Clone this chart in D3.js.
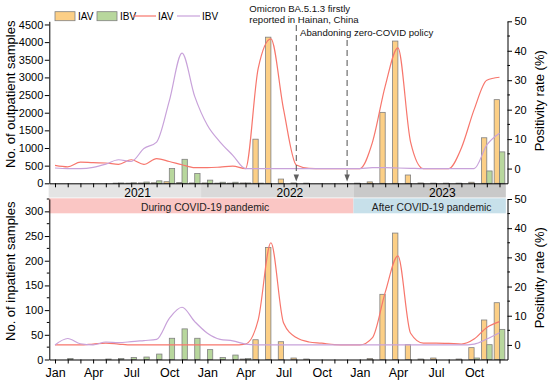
<!DOCTYPE html>
<html><head><meta charset="utf-8">
<script src="https://cdn.jsdelivr.net/npm/d3@7/dist/d3.min.js"></script>
<style>body{margin:0;background:#fff;} svg{font-family:Arial,"Liberation Sans",sans-serif;}</style>
</head><body>
<svg id="c" width="550" height="381"></svg>
<script>
// ---------- data ----------
const years = ["2021", "2022", "2023"];
const monthNames = ["Jan","Feb","Mar","Apr","May","Jun","Jul","Aug","Sep","Oct","Nov","Dec"];
const categories = years.flatMap(y => monthNames.map(m => m + " " + y));
const tickLabels = ["Jan", "Apr", "Jul", "Oct"];

// outpatient samples (bars, left axis)
const outIAV = [0,0,0,0,0,5,5,10,15,45,20,10,
                10,5,5,10,1250,4140,120,10,5,0,0,0,
                5,40,2010,4030,235,10,5,5,5,30,1290,2370];
const outIBV = [0,0,0,0,0,10,15,35,70,420,680,280,
                90,30,30,10,5,0,0,0,0,0,0,0,
                0,0,0,0,0,0,0,0,0,0,350,890];
// outpatient positivity rate (%) (lines, right axis)
const outIAVRate = [1.1,0.6,2.2,2.0,1.9,1.4,3.0,1.4,3.4,2.4,1.3,0.3,
                    0.3,0.5,0.8,0,34,44,20,1.2,0.1,0,0,0,
                    0,9,28,41,9,0,0,0,7,20,30,31];
const outIBVRate = [0.2,0,0,0.4,1.5,3.0,2.4,6.8,9.0,23,39.2,24.5,
                    14.7,9,4.5,0,0,0,0,0,0,0,0,0,
                    0,0.3,0.3,0.2,0.1,0,0,0,0,0,8,12];

// inpatient samples
const inIAV = [0,0,0,0,0,0,0,0,0,0,0,0,
               0,0,0,1,40,227,36,3,1,0,0,0,
               0,2,132,256,30,1,3,0,1,24,80,115];
const inIBV = [0,2,0,0,1,2,4,5,11,43,62,43,
               20,4,9,2,0,0,0,0,0,0,0,0,
               0,0,0,0,0,0,0,0,0,3,30,61];
const inIAVRate = [0,0,0,0.3,0.6,0.3,0,0,0,0,0,0,
                   0,0,0,0.3,8.6,35,7.5,2.5,1,0.6,0.1,0,
                   0,2.5,18,30.5,4,0.6,0.6,0.5,0.3,2,6,8];
const inIBVRate = [0,2.2,0.4,0,1.0,0.8,1.1,1.5,1.9,9.1,12.9,8,
                   4.0,1.9,1.4,0.3,0,0,0,0,0,0,0,0,
                   0,0,0,0,0,0,0,0,0,0.3,2,4.2];

const periods = ["During COVID-19 pandemic", "After COVID-19 pandemic"];
const periodStart = [0, 24];
const periodEnd = [24, 36];
const events = [
  {month: 19, lines: ["Omicron BA.5.1.3 firstly", "reported in Hainan, China"]},
  {month: 23, lines: ["Abandoning zero-COVID policy"]}
];

// ---------- layout ----------
const FONT = "Arial,'Liberation Sans',sans-serif";
const C = {iav: "#fccf86", ibv: "#b8d79d", barStroke: "#808080",
           lineIAV: "#f7766c", lineIBV: "#c8a2da"};
const svg = d3.select("#c");
const X0 = 49.3, X1 = 507.5;
const x = d3.scaleLinear().domain([-0.45, 35.63]).range([X0, X1]);
const step = x(1) - x(0);
const sub = d3.scaleBand().domain(["IAV", "IBV"]).range([-0.42 * step, 0.42 * step]);

// year band
const yearColors = ["#e4e4e4", "#d9d9d9", "#c9c9c9"];
years.forEach((yr, k) => {
  svg.append("rect").attr("x", x(k * 12 - 0.5)).attr("y", 184)
    .attr("width", x(k * 12 + 11.5) - x(k * 12 - 0.5)).attr("height", 13.5)
    .attr("fill", yearColors[k]);
  svg.append("text").attr("x", x(k * 12 + 6.5)).attr("y", 196.5)
    .attr("text-anchor", "middle").attr("font-size", 12).text(yr);
});
// period band
const periodColors = ["#fac6c4", "#c7e0ea"];
periods.forEach((p, k) => {
  const a = x(periodStart[k] - 0.5), b = x(periodEnd[k] - 0.5);
  svg.append("rect").attr("x", a).attr("y", 198.3).attr("width", b - a).attr("height", 15)
    .attr("fill", periodColors[k]);
  svg.append("text").attr("x", (a + b) / 2 + (k === 0 ? 4 : 2)).attr("y", 210.5)
    .attr("text-anchor", "middle").attr("font-size", 10.3).attr("fill", "#222").text(p);
});

const panels = [
  {top: 21.3, bot: 183.3, lMax: 4590, lTicks: d3.range(0, 4501, 500), lMinor: [],
   iav: outIAV, ibv: outIBV, rA: outIAVRate, rB: outIBVRate,
   title: "No. of outpatient samples", labels: false},
  {top: 199, bot: 359.5, lMax: 325, lTicks: d3.range(0, 301, 50), lMinor: d3.range(25, 326, 50),
   iav: inIAV, ibv: inIBV, rA: inIAVRate, rB: inIBVRate,
   title: "No. of inpatient samples", labels: true}
];

panels.forEach(P => {
  const yL = d3.scaleLinear().domain([0, P.lMax]).range([P.bot, P.top]);
  const yR = d3.scaleLinear().domain([-5, 50]).range([P.bot, P.top]);
  const g = svg.append("g");

  // bars
  [["IAV", P.iav, C.iav], ["IBV", P.ibv, C.ibv]].forEach(([key, vals, col]) => {
    g.append("g").selectAll("rect").data(vals.map((v, i) => ({v, i})).filter(d => d.v > 0))
      .join("rect")
      .attr("x", d => x(d.i) + sub(key))
      .attr("width", sub.bandwidth())
      .attr("y", d => yL(d.v))
      .attr("height", d => yL(0) - yL(d.v))
      .attr("fill", col).attr("stroke", C.barStroke).attr("stroke-width", 0.8);
  });

  // lines
  const line = d3.line().x((d, i) => x(i)).y(d => yR(d)).curve(d3.curveMonotoneX);
  g.append("path").attr("d", line(P.rA)).attr("fill", "none")
    .attr("stroke", C.lineIAV).attr("stroke-width", 1.2);
  g.append("path").attr("d", line(P.rB)).attr("fill", "none")
    .attr("stroke", C.lineIBV).attr("stroke-width", 1.2);

  // left axis
  const la = g.append("g").attr("transform", `translate(${X0},0)`)
    .call(d3.axisLeft(yL).tickValues(P.lTicks).tickFormat(d3.format("d"))
      .tickSize(4.5).tickSizeOuter(0).tickPadding(1.5));
  la.selectAll("text").attr("font-size", 11).attr("font-family", FONT);
  la.selectAll("line, path").attr("stroke", "#000");
  g.append("g").selectAll("line").data(P.lMinor).join("line")
    .attr("x1", X0 - 2.5).attr("x2", X0).attr("y1", d => yL(d)).attr("y2", d => yL(d)).attr("stroke", "#000");

  // right axis
  const ra = g.append("g").attr("transform", `translate(${X1},0)`)
    .call(d3.axisRight(yR).tickValues([0, 10, 20, 30, 40, 50]).tickSize(4.5).tickSizeOuter(0).tickPadding(2.5));
  ra.selectAll("text").attr("font-size", 11).attr("font-family", FONT);
  ra.selectAll("line, path").attr("stroke", "#000");
  g.append("g").selectAll("line").data([5, 15, 25, 35, 45]).join("line")
    .attr("x1", X1).attr("x2", X1 + 2.5).attr("y1", d => yR(d)).attr("y2", d => yR(d)).attr("stroke", "#000");

  // bottom axis
  const ba = g.append("g").attr("transform", `translate(0,${P.bot})`)
    .call(d3.axisBottom(x).tickValues(d3.range(categories.length)).tickSize(4).tickSizeOuter(0).tickPadding(4.5)
      .tickFormat(i => {
        const m = categories[i].split(" ")[0];
        return P.labels && tickLabels.includes(m) ? m : "";
      }));
  ba.selectAll("text").attr("font-size", 12.5).attr("font-family", FONT);
  ba.selectAll("line, path").attr("stroke", "#000");

  // titles
  svg.append("text").attr("transform", `translate(14.8,${(P.top + P.bot) / 2 - 8}) rotate(-90)`)
    .attr("text-anchor", "middle").attr("font-size", 13).text(P.title);
  svg.append("text").attr("transform", `translate(543.5,${(P.top + P.bot) / 2 - 1.5}) rotate(-90)`)
    .attr("text-anchor", "middle").attr("font-size", 13).text("Positivity rate (%)");
});

// legend
const leg = svg.append("g").attr("font-size", 10);
[[55, C.iav, "IAV"], [97, C.ibv, "IBV"]].forEach(([lx, col, t]) => {
  leg.append("rect").attr("x", lx).attr("y", 11.7).attr("width", 20).attr("height", 9)
    .attr("fill", col).attr("stroke", C.barStroke).attr("stroke-width", 0.8);
  leg.append("text").attr("x", lx + 23).attr("y", 20).text(t);
});
[[133, C.lineIAV, "IAV"], [177, C.lineIBV, "IBV"]].forEach(([lx, col, t]) => {
  leg.append("line").attr("x1", lx).attr("x2", lx + 23).attr("y1", 16).attr("y2", 16)
    .attr("stroke", col).attr("stroke-width", 1.2);
  leg.append("text").attr("x", lx + 25).attr("y", 20).text(t);
});

// event annotations
const evTop = [25, 40];
const evText = [[249.3, 11.7], [300, 36]];
events.forEach((e, k) => {
  const ex = x(e.month);
  svg.append("line").attr("x1", ex).attr("x2", ex).attr("y1", evTop[k]).attr("y2", 175)
    .attr("stroke", "#606060").attr("stroke-width", 1.1).attr("stroke-dasharray", "6,4");
  svg.append("path").attr("d", `M${ex - 2.7},174.5 L${ex + 2.7},174.5 L${ex},181.5 Z`).attr("fill", "#606060");
  e.lines.forEach((t, j) => {
    svg.append("text").attr("x", evText[k][0]).attr("y", evText[k][1] + j * 11)
      .attr("font-size", 9.6).attr("fill", "#111").text(t);
  });
});
</script>
</body></html>
